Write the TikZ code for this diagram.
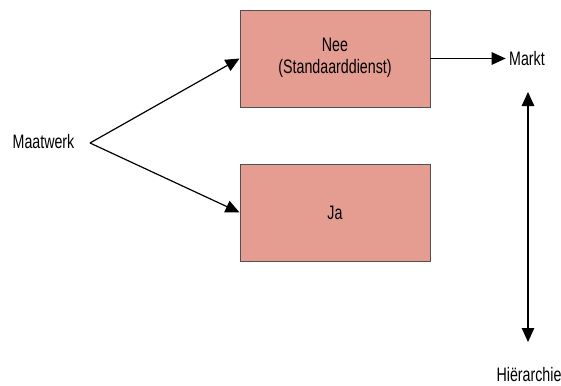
\documentclass[tikz,border=0pt]{standalone}
\usepackage{fontspec}
\setmainfont{Liberation Sans}[FakeStretch=0.73]
\usetikzlibrary{arrows.meta}
\definecolor{boxfill}{RGB}{229,156,145}
\definecolor{boxline}{RGB}{85,80,80}

\begin{document}
\begin{tikzpicture}[x=1pt,y=-1pt,
  font=\fontsize{19.5}{22}\selectfont,
  box/.style={rectangle,draw=boxline,fill=boxfill,line width=0.9pt,
    minimum width=190pt,minimum height=97pt},
  arr/.style={line width=1.2pt,-{Triangle[length=14pt,width=12.5pt]}},
  dblarr/.style={line width=1.2pt,{Triangle[length=14pt,width=12.5pt]}-{Triangle[length=14pt,width=12.5pt]}}]
\useasboundingbox (0,0) rectangle (561,385);
\node [box] (nee) at (335,58.5) {\raisebox{-3.1pt}{\begin{tabular}{c}Nee\\(Standaarddienst)\end{tabular}}};
\node [box] (ja) at (335,212.5) {Ja};
\node (maatwerk) at (43.5,141.7) {Maatwerk};
\node (markt) at (527,58.5) {Markt};
\node (hier) at (529,375) {Hiërarchie};
\coordinate (split) at (90,143);
\coordinate (top) at (528,92);
\coordinate (bottom) at (528,342);

\draw [arr] (split) -- (nee.west);
\draw [arr] (split) -- (ja.west);
\draw [arr] (nee.east) -- (markt.west);
\draw [dblarr] (top) -- (bottom);
\end{tikzpicture}
\end{document}
